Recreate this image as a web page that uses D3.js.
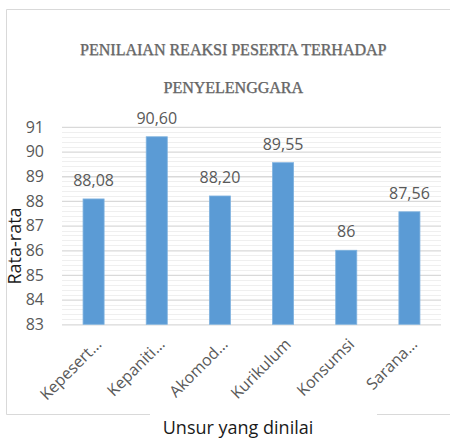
<!DOCTYPE html>
<html><head><meta charset="utf-8">
<script src="https://cdn.jsdelivr.net/npm/d3@7/dist/d3.min.js"></script>
<style>html,body{margin:0;padding:0;background:#fff;}svg{display:block;}</style>
</head><body><div id="chart"></div>
<script>
const categories = ["Kepesert…", "Kepaniti…", "Akomod…", "Kurikulum", "Konsumsi", "Sarana…"];
const values = [88.08, 90.60, 88.20, 89.55, 86, 87.56];
const valueLabels = ["88,08", "90,60", "88,20", "89,55", "86", "87,56"];
const yTicks = [83, 84, 85, 86, 87, 88, 89, 90, 91];
const titleLines = ["PENILAIAN REAKSI PESERTA TERHADAP", "PENYELENGGARA"];
const yTitle = "Rata-rata";
const xTitle = "Unsur yang dinilai";

const W = 450, H = 438;
const svg = d3.select("#chart").append("svg").attr("width", W).attr("height", H);
const sans = "'Open Sans', sans-serif";

// outer border
const bc = "#d9d9d9";
svg.append("line").attr("x1", 6.5).attr("x2", 450).attr("y1", 9.5).attr("y2", 9.5).attr("stroke", bc);
svg.append("line").attr("x1", 6.5).attr("x2", 6.5).attr("y1", 9.5).attr("y2", 414.5).attr("stroke", bc);
svg.append("line").attr("x1", 6.5).attr("x2", 150).attr("y1", 414.5).attr("y2", 414.5).attr("stroke", bc);
svg.append("line").attr("x1", 377).attr("x2", 450).attr("y1", 414.5).attr("y2", 414.5).attr("stroke", bc);

const x = d3.scaleBand().domain(categories).range([62, 441]).paddingInner(0).paddingOuter(0);
const y = d3.scaleLinear().domain([83, 91]).range([324.3, 126.9]);

// minor gridlines
const minor = d3.range(83, 91.001, 0.2).filter(v => Math.abs(v - Math.round(v)) > 1e-6);
svg.append("g").selectAll("line").data(minor).join("line")
  .attr("x1", 62).attr("x2", 441)
  .attr("y1", d => Math.round(y(d)) + 0.5).attr("y2", d => Math.round(y(d)) + 0.5)
  .attr("stroke", "#efefef").attr("stroke-width", 1);

// y axis with major gridlines
const yAxis = svg.append("g").attr("transform", "translate(62,0)")
  .call(d3.axisLeft(y).tickValues(yTicks).tickSize(-379).tickPadding(18).tickFormat(d3.format("d")));
yAxis.select(".domain").remove();
yAxis.selectAll(".tick line").attr("stroke", "#d9d9d9").attr("stroke-width", 1.3);
yAxis.selectAll(".tick text").attr("fill", "#595959").attr("font-family", sans).attr("font-size", 16);

// bars
svg.append("g").selectAll("rect").data(values).join("rect")
  .attr("x", (d, i) => x(categories[i]) + x.bandwidth() / 3)
  .attr("width", x.bandwidth() / 3)
  .attr("y", d => y(d))
  .attr("height", d => y(83) - y(d))
  .attr("fill", "#5b9bd5")
  .attr("stroke", "#7fb2df").attr("stroke-width", 0.8);

// value labels
svg.append("g").selectAll("text").data(values).join("text")
  .attr("x", (d, i) => x(categories[i]) + x.bandwidth() / 2)
  .attr("y", d => y(d) - 13)
  .attr("text-anchor", "middle")
  .attr("fill", "#595959").attr("font-family", sans).attr("font-size", 16)
  .text((d, i) => valueLabels[i]);

// x axis
const xAxis = svg.append("g").attr("transform", "translate(0,324.3)")
  .call(d3.axisBottom(x).tickSize(0).tickPadding(0));
xAxis.select(".domain").remove();
xAxis.selectAll(".tick text")
  .attr("fill", "#595959").attr("font-family", sans).attr("font-size", 16)
  .attr("text-anchor", "end")
  .attr("dy", 0)
  .attr("transform", "translate(9,21) rotate(-45)");

// title
const title = svg.append("g");
titleLines.forEach((t, i) => {
  title.append("text").attr("x", 233.8).attr("y", [55.6, 93.1][i])
    .attr("text-anchor", "middle")
    .attr("font-family", "'Liberation Serif', serif").attr("font-size", 16)
    .attr("fill", "#cfcfcf").text(t);
  title.append("text").attr("x", 233.3).attr("y", [55, 92.5][i])
    .attr("text-anchor", "middle")
    .attr("font-family", "'Liberation Serif', serif").attr("font-size", 16)
    .attr("fill", "#666").attr("stroke", "#666").attr("stroke-width", 0.25).text(t);
});

// axis titles
svg.append("text").attr("transform", "translate(21,246) rotate(-90)")
  .attr("text-anchor", "middle").attr("font-family", sans).attr("font-size", 18)
  .attr("fill", "#1a1a1a").text(yTitle);
svg.append("text").attr("x", 238).attr("y", 434)
  .attr("text-anchor", "middle").attr("font-family", sans).attr("font-size", 18)
  .attr("fill", "#1a1a1a").text(xTitle);
</script></body></html>
